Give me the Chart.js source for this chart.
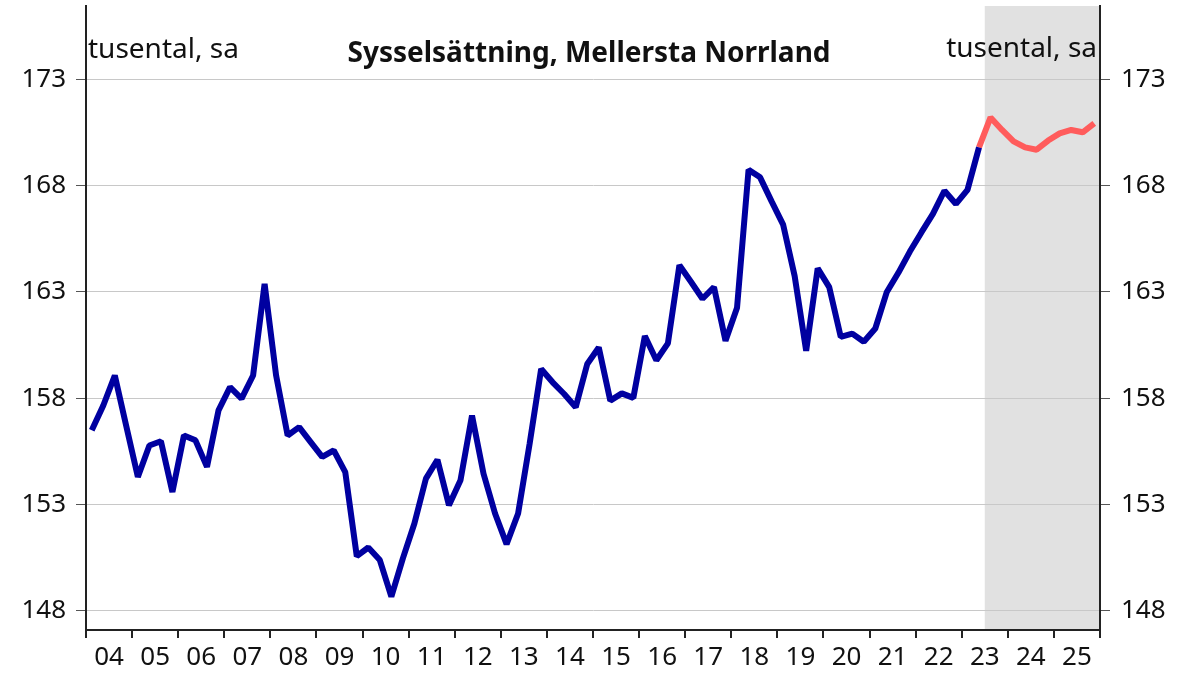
<!DOCTYPE html>
<html>
<head>
<meta charset="utf-8">
<script src="https://cdn.jsdelivr.net/npm/chart.js@4.4.1/dist/chart.umd.min.js"></script>
<style>
  html, body { margin: 0; padding: 0; background: #ffffff; }
  #wrap { width: 1191px; height: 678px; position: relative; }
</style>
</head>
<body>
<div id="wrap"><canvas id="c" width="1191" height="678"></canvas></div>
<script>
// ---- Data ----
const chartTitle = 'Sysselsättning, Mellersta Norrland';
const unitLabel = 'tusental, sa';

// Quarter categories 2004K1 .. 2025K4
const quarters = [];
for (let y = 2004; y <= 2025; y++) { for (let q = 1; q <= 4; q++) quarters.push(y + 'K' + q); }

// Tick labels (years)
const yearLabels = ['04','05','06','07','08','09','10','11','12','13','14','15','16','17','18','19','20','21','22','23','24','25'];
const yTicks = [148, 153, 158, 163, 168, 173];

// Outcome 2004K1 .. 2023K2 (thousands, seasonally adjusted)
const utfall = [
  156.49, 157.66, 159.07, 156.68,
  154.30, 155.78, 155.98, 153.59,
  156.25, 156.02, 154.77, 157.43,
  158.52, 157.98, 159.07, 163.38,
  159.07, 156.25, 156.64, 155.94,
  155.24, 155.55, 154.53, 150.57,
  150.98, 150.39, 148.67, 150.47,
  152.11, 154.22, 155.11, 152.97,
  154.14, 157.19, 154.45, 152.58,
  151.14, 152.58, 155.86, 159.38,
  158.75, 158.20, 157.58, 159.61,
  160.39, 157.89, 158.23, 158.02,
  160.93, 159.79, 160.58, 164.26,
  163.48, 162.68, 163.23, 160.70,
  162.26, 168.75, 168.39, 167.26,
  166.17, 163.75, 160.23, 164.11,
  163.23, 160.89, 161.04, 160.66,
  161.28, 163.00, 163.90, 164.90,
  165.80, 166.67, 167.76, 167.14,
  167.80, 169.80
];
// Forecast 2023K2 .. 2025K4
const prognosStartQuarter = '2023K2';
const prognos = [169.80, 171.21, 170.62, 170.08, 169.80, 169.69, 170.12, 170.46, 170.62, 170.51, 170.93];
// Shaded forecast period starts
const shadeStartQuarter = '2023K3';

// ---- Helpers ----
function quarterCenter(label) {
  const [y, q] = label.split('K').map(Number);
  return y + (q - 0.5) / 4;
}
function quarterStart(label) {
  const [y, q] = label.split('K').map(Number);
  return y + (q - 1) / 4;
}
const utfallPts = utfall.map((v, i) => ({ x: quarterCenter(quarters[i]), y: v }));
const pStart = quarters.indexOf(prognosStartQuarter);
const prognosPts = prognos.map((v, i) => ({ x: quarterCenter(quarters[pStart + i]), y: v }));
const xMin = 2004, xMax = 2026;

const FONT = '"Noto Sans", "Open Sans", sans-serif';
const AXIS = '#222222';
const GRID = '#c8c8c8';

const shadePlugin = {
  id: 'shade',
  beforeDraw(chart) {
    const { ctx, chartArea, scales } = chart;
    const x0 = scales.x.getPixelForValue(quarterStart(shadeStartQuarter));
    const x1 = chartArea.right;
    ctx.save();
    ctx.fillStyle = '#e1e1e1';
    ctx.fillRect(x0, chartArea.top, x1 - x0, chartArea.bottom - chartArea.top);
    ctx.restore();
  }
};

const textPlugin = {
  id: 'texts',
  afterDraw(chart) {
    const { ctx, chartArea } = chart;
    ctx.save();
    ctx.fillStyle = '#111';
    ctx.textBaseline = 'alphabetic';
    ctx.font = '28px ' + FONT;
    ctx.textAlign = 'left';
    ctx.fillText(unitLabel, chartArea.left + 2, chartArea.top + 52);
    ctx.textAlign = 'right';
    ctx.fillText(unitLabel, chartArea.right - 3, chartArea.top + 51);
    ctx.font = 'bold 28px ' + FONT;
    ctx.textAlign = 'center';
    ctx.fillText(chartTitle, (chartArea.left + chartArea.right) / 2 - 4, chartArea.top + 56);
    ctx.restore();
  }
};

function setYTicks(scale) { scale.ticks = yTicks.map(v => ({ value: v })); }
function fitY(width) {
  return function (scale) { scale.width = width; scale.paddingTop = 0; scale.paddingBottom = 0; };
}

new Chart(document.getElementById('c'), {
  type: 'line',
  data: {
    datasets: [
      { label: 'Utfall', data: utfallPts, borderColor: '#0000a0', borderWidth: 6, borderJoinStyle: 'bevel', pointRadius: 0, tension: 0, fill: false },
      { label: 'Prognos', data: prognosPts, borderColor: '#ff5c5c', borderWidth: 6, borderJoinStyle: 'bevel', pointRadius: 0, tension: 0, fill: false }
    ]
  },
  options: {
    responsive: false,
    animation: false,
    events: [],
    layout: { padding: { top: 6, left: 0, right: 0, bottom: 0 } },
    plugins: { legend: { display: false }, tooltip: { enabled: false }, title: { display: false } },
    scales: {
      x: {
        type: 'linear',
        min: xMin, max: xMax,
        afterBuildTicks(scale) {
          const t = [];
          for (let y = xMin; y <= xMax; y++) {
            t.push({ value: y });
            if (y < xMax) t.push({ value: y + 0.5 });
          }
          scale.ticks = t;
        },
        afterFit(scale) { scale.height = 48; scale.paddingLeft = 0; scale.paddingRight = 0; },
        ticks: {
          autoSkip: false, maxRotation: 0, minRotation: 0, padding: 4,
          color: '#111',
          font: { family: FONT, size: 26 },
          callback(value) {
            if (Math.abs(value % 1 - 0.5) < 1e-6) return yearLabels[Math.floor(value) - xMin];
            return '';
          }
        },
        grid: {
          drawOnChartArea: false, drawTicks: true, tickLength: 8, lineWidth: 2,
          tickColor(ctx) { return (ctx.tick && Math.abs(ctx.tick.value % 1) < 1e-6) ? AXIS : 'rgba(0,0,0,0)'; }
        },
        border: { display: true, color: AXIS, width: 2 }
      },
      y: {
        position: 'left',
        min: 147.1, max: 176.45,
        afterBuildTicks: setYTicks,
        afterFit: fitY(86),
        ticks: { color: '#111', font: { family: FONT, size: 26 }, padding: 10 },
        grid: { color: GRID, lineWidth: 1, tickLength: 10, tickColor: '#555', drawTicks: true },
        border: { display: true, color: AXIS, width: 2 }
      },
      y2: {
        position: 'right',
        min: 147.1, max: 176.45,
        afterBuildTicks: setYTicks,
        afterFit: fitY(91),
        ticks: { color: '#111', font: { family: FONT, size: 26 }, padding: 11 },
        grid: { drawOnChartArea: false, tickLength: 10, tickColor: '#555', drawTicks: true },
        border: { display: true, color: AXIS, width: 2 }
      }
    }
  },
  plugins: [shadePlugin, textPlugin]
});
</script>
</body>
</html>
